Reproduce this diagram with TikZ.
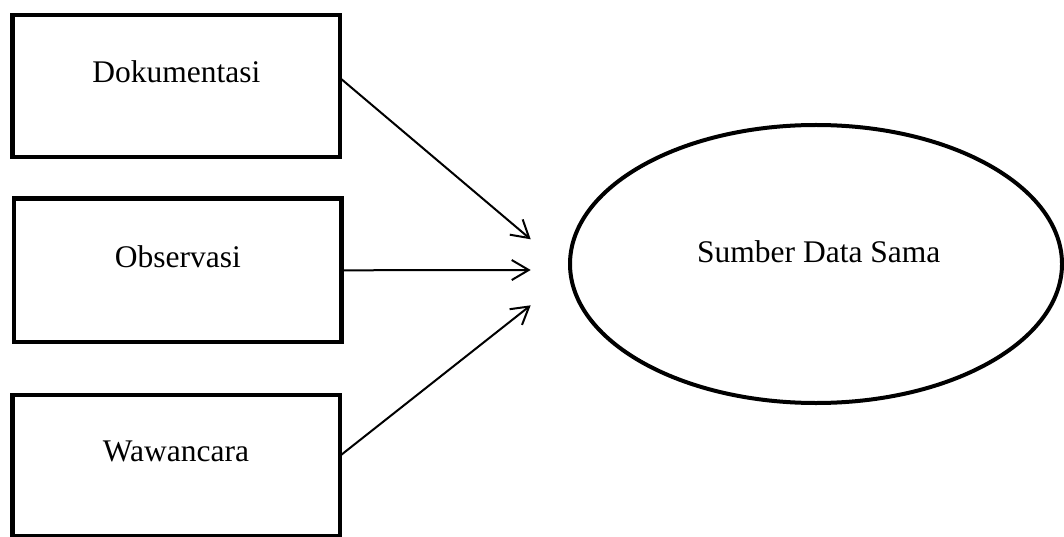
\documentclass[tikz,border=0pt]{standalone}
\usepackage{fontspec}
\setmainfont{Liberation Serif}
\usetikzlibrary{arrows.meta,shapes.geometric}
\begin{document}
\begin{tikzpicture}[x=1pt,y=-1pt,
  every node/.style={font=\fontsize{31.5}{36}\selectfont},
  srcbox/.style={draw,rectangle,line width=4.5pt,inner sep=0pt,outer sep=0pt,
                 minimum width=327.5pt,minimum height=142pt},
  boxlabel/.style={inner sep=0pt,yshift=14pt},
  result/.style={draw,ellipse,line width=4pt,inner sep=0pt,outer sep=0pt,
                 minimum width=492pt,minimum height=278pt},
  feed/.style={line width=2pt,-{Straight Barb[length=17pt,width=20pt]}}]
  \useasboundingbox (0,0) rectangle (1064,537);

  % three data collection methods
  \node[srcbox,label={[boxlabel]center:Dokumentasi}] (b1) at (176.3,86) {};
  \node[srcbox,minimum height=143.3pt,label={[boxlabel]center:Observasi}] (b2) at (177.9,270.3) {};
  \node[srcbox,minimum height=141pt,label={[boxlabel]center:Wawancara}] (b3) at (176,465.5) {};

  % common data source
  \node[result] (src) at (816,264) {};
  \node[inner sep=0pt] (srclabel) at (818.8,252) {Sumber Data Sama};

  % arrow tips in front of the ellipse
  \coordinate (t1) at (530.7,239.3);
  \coordinate (t2) at (530.7,270);
  \coordinate (t3) at (530.7,305.3);

  \draw[feed] ([yshift=8pt]b1.east) -- (t1);
  \draw[feed] (b2.east) -- (t2);
  \draw[feed] ([yshift=9.5pt]b3.east) -- (t3);
\end{tikzpicture}
\end{document}
